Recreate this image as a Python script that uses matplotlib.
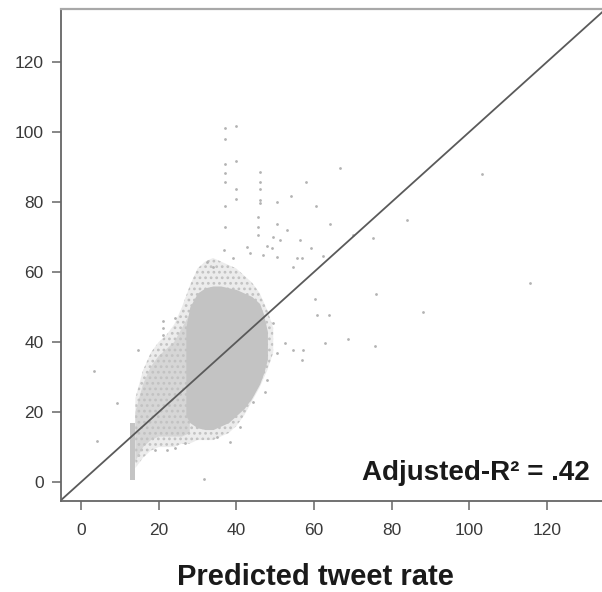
import matplotlib
matplotlib.use("Agg")
import matplotlib.pyplot as plt

# dense core of the cloud: predicted rate vs. (low, high) observed rate
core_x  = [27, 28, 30, 32, 34, 36, 38, 40, 42, 44, 46, 47, 48]
core_lo = [19, 17, 15.5, 15, 15, 16, 17, 19, 21, 24, 28, 31, 35]
core_hi = [44, 50, 54, 55.5, 56, 56, 55.5, 55, 54, 53, 51, 48, 43]

# medium-density lower-left lobe
mid_x  = [14, 16, 18, 20, 22, 24, 26, 28]
mid_lo = [6, 10, 12, 13, 13, 13, 13, 14]
mid_hi = [20, 28, 33, 36, 38, 40, 44, 48]

# sparse outer fringe
fringe_x  = [14, 16, 18, 20, 22, 24, 26, 28, 30, 32, 34, 36, 38, 40, 42, 44, 46, 48, 49.5]
fringe_lo = [4, 7, 9, 10, 10, 10, 11, 11, 12, 12, 12, 13, 14, 16, 19, 23, 27, 32, 37]
fringe_hi = [24, 32, 37, 40, 42, 45, 50, 56, 61, 63, 64, 63, 62, 61, 59, 57, 54, 49, 44]

# narrow vertical stripe at the lowest prediction
stripe_x  = [12.5, 13.8]
stripe_lo = [0.5, 0.5]
stripe_hi = [17, 17]

# scattered single points (predicted, observed)
pts_x = [37.1, 39.9, 37.1, 37.1, 39.9, 37.1, 37.1, 39.9, 39.9, 37.1, 37.1, 46.1, 46.1,
         46.1, 46.1, 46.1, 50.4, 54.0, 45.6, 45.6, 45.6, 50.4, 53.0, 49.4, 51.2, 42.7,
         47.8, 49.1, 36.8, 43.5, 46.9, 50.4, 55.6, 39.1, 34.0, 32.4, 54.6, 56.4,
         66.7, 57.9, 103.3, 60.5, 64.1, 84.0, 75.2, 70.0, 59.2, 62.3, 56.9, 115.6,
         76.0, 60.3, 60.8, 63.9, 88.1, 62.8, 68.8, 75.7, 57.2, 56.9,
         3.3, 4.1, 9.3, 31.7, 21.0, 21.0, 21.0, 14.7, 38.4, 35.0, 40.9, 44.3, 47.4,
         47.9, 50.4, 52.5, 54.6, 49.4, 24.2, 24.2, 19.1, 22.1, 26.8]
pts_y = [101.1, 101.7, 98.0, 90.9, 91.7, 88.3, 85.7, 83.7, 80.9, 78.9, 72.9, 88.6, 85.7,
         83.7, 80.6, 79.7, 80.0, 81.7, 75.7, 72.9, 70.6, 73.7, 72.0, 70.0, 69.1, 67.1,
         67.4, 66.9, 66.3, 65.4, 64.9, 64.3, 64.0, 64.0, 61.4, 62.9, 61.4, 69.1,
         89.7, 85.7, 88.0, 78.9, 73.7, 74.9, 69.7, 70.6, 66.9, 64.6, 64.0, 56.9,
         53.7, 52.3, 47.7, 47.7, 48.6, 39.7, 40.9, 38.9, 37.7, 34.9,
         31.7, 11.7, 22.6, 0.9, 42.0, 44.0, 46.0, 37.7, 11.4, 12.9, 15.7, 22.9, 25.7,
         29.1, 36.9, 39.7, 37.7, 45.4, 46.9, 9.7, 9.1, 9.1, 11.1]

xticks = [0, 20, 40, 60, 80, 100, 120]
yticks = [0, 20, 40, 60, 80, 100, 120]

plt.rcParams["hatch.linewidth"] = 1.2
plt.rcParams["hatch.color"] = "#c2c2c2"

fig = plt.figure(figsize=(6.02, 5.92), dpi=100)
ax = fig.add_axes([0.1013, 0.1537, 0.899, 0.8311])

ax.fill_between(fringe_x, fringe_lo, fringe_hi, facecolor="#ececec", hatch="...", lw=0)
ax.fill_between(mid_x, mid_lo, mid_hi, facecolor="#d6d6d6", hatch="...", lw=0)
ax.fill_between(core_x, core_lo, core_hi, color="#c3c3c3", lw=0)
ax.fill_between(stripe_x, stripe_lo, stripe_hi, color="#c4c4c4", lw=0)
ax.scatter(pts_x, pts_y, s=4, color="#b3b3b3", lw=0)

ax.axline((0, 0), slope=1, color="#5a5a5a", lw=1.3)

ax.set_xlim(-5.15, 134.2)
ax.set_ylim(-5.4, 135.1)
ax.set_xticks(xticks)
ax.set_yticks(yticks)

for s in ["left", "bottom"]:
    ax.spines[s].set_color("#666666")
    ax.spines[s].set_linewidth(1.3)
ax.spines["top"].set_color("#a8a8a8")
ax.spines["top"].set_linewidth(1.6)
ax.spines["right"].set_visible(False)

ax.tick_params(axis="both", direction="out", length=6.5, width=1.1, color="#666666",
               labelcolor="#3a3a3a", labelsize=12.5)
ax.tick_params(axis="x", pad=9)
ax.tick_params(axis="y", pad=6)
for lab in ax.get_xticklabels() + ax.get_yticklabels():
    lab.set_family("Liberation Sans")

ax.text(131.1, 0.6, "Adjusted-R² = .42", ha="right", va="baseline",
        fontsize=20, fontweight="bold", family=["Liberation Sans"],
        color="#1a1a1a")

fig.text(0.524, 0.012, "Predicted tweet rate", ha="center", va="baseline",
         fontsize=21, fontweight="bold", family=["Liberation Sans"],
         color="#1a1a1a")

fig.savefig("out.png", dpi=100)
